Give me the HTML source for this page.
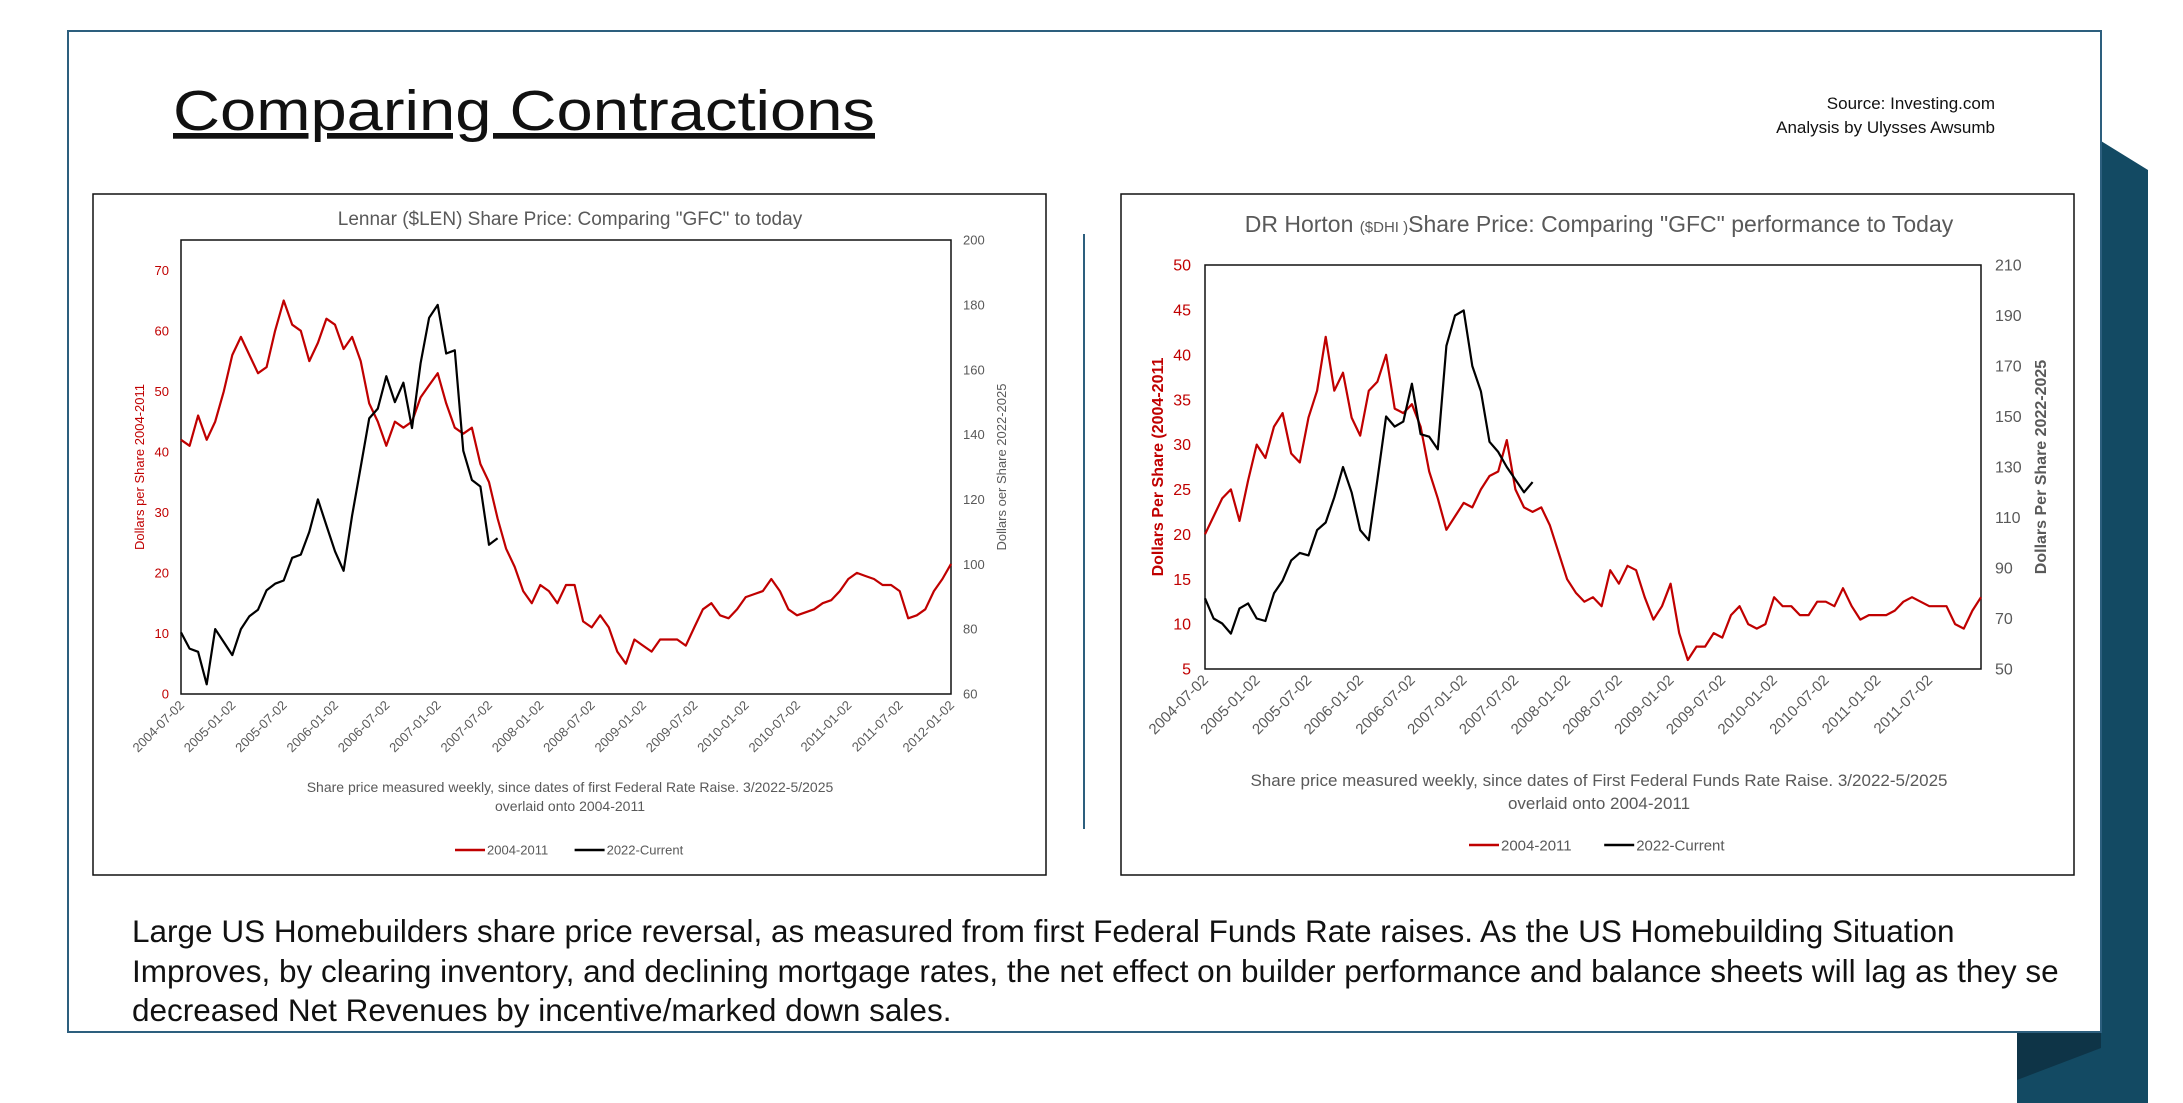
<!DOCTYPE html>
<html><head><meta charset="utf-8">
<style>
html,body{margin:0;padding:0;background:#fff;}
body{width:2183px;height:1103px;position:relative;overflow:hidden;font-family:"Liberation Sans",sans-serif;}
svg{position:absolute;left:0;top:0;}
.body-text{position:absolute;left:132px;top:912px;width:1966px;overflow:hidden;white-space:nowrap;font-size:31.5px;line-height:39.5px;color:#111;}
</style></head>
<body>
<svg id="main" width="2183" height="1103" viewBox="0 0 2183 1103">
  <polygon points="2101,141 2148,170 2148,1103 2017,1103 2017,1033 2101,1033" fill="#134a63"/>
  <polygon points="2017,1033 2101,1033 2101,1048 2017,1080" fill="#0e3447"/>
  <rect x="68" y="31" width="2033" height="1001" fill="#fff" stroke="#2d5f7e" stroke-width="2"/>
  <text x="173" y="130" font-size="57" fill="#111" textLength="702" lengthAdjust="spacingAndGlyphs" text-decoration="underline">Comparing Contractions</text>
  <text x="1995" y="109" font-size="17" text-anchor="end" fill="#111">Source: Investing.com</text>
  <text x="1995" y="133" font-size="17" text-anchor="end" fill="#111">Analysis by Ulysses Awsumb</text>
  <line x1="1084" y1="234" x2="1084" y2="829" stroke="#2d5f7e" stroke-width="2"/>
  <g id="chartL"></g>
  <g id="chartR"></g>
</svg>
<div class="body-text">Large US Homebuilders share price reversal, as measured from first Federal Funds Rate raises. As the US Homebuilding Situation<br>Improves, by clearing inventory, and declining mortgage rates, the net effect on builder performance and balance sheets will lag as they se<br>decreased Net Revenues by incentive/marked down sales.</div>
<script>
// Lennar monthly values starting 2004-07
const lenRed = [42,41,46,42,45,50,56,59,56,53,54,60,65,61,60,55,58,62,61,57,59,55,48,45,41,45,44,45,49,51,53,48,44,43,44,38,35,29,24,21,17,15,18,17,15,18,18,12,11,13,11,7,5,9,8,7,9,9,9,8,11,14,15,13,12.5,14,16,16.5,17,19,17,14,13,13.5,14,15,15.5,17,19,20,19.5,19,18,18,17,12.5,13,14,17,19,21.5];
const lenBlack = [79,74,73,63,80,76,72,80,84,86,92,94,95,102,103,110,120,112,104,98,115,130,145,148,158,150,156,142,162,176,180,165,166,135,126,124,106,108];
const lenLeftTicks = [0,10,20,30,40,50,60,70];
const lenRightTicks = [60,80,100,120,140,160,180,200];
const lenXLabels = ["2004-07-02","2005-01-02","2005-07-02","2006-01-02","2006-07-02","2007-01-02","2007-07-02","2008-01-02","2008-07-02","2009-01-02","2009-07-02","2010-01-02","2010-07-02","2011-01-02","2011-07-02","2012-01-02"];
// DR Horton monthly values starting 2004-07
const dhiRed = [20,22,24,25,21.5,26,30,28.5,32,33.5,29,28,33,36,42,36,38,33,31,36,37,40,34,33.5,34.5,32,27,24,20.5,22,23.5,23,25,26.5,27,30.5,25,23,22.5,23,21,18,15,13.5,12.5,13,12,16,14.5,16.5,16,13,10.5,12,14.5,9,6,7.5,7.5,9,8.5,11,12,10,9.5,10,13,12,12,11,11,12.5,12.5,12,14,12,10.5,11,11,11,11.5,12.5,13,12.5,12,12,12,10,9.5,11.5,13];
const dhiBlack = [78,70,68,64,74,76,70,69,80,85,93,96,95,105,108,118,130,120,105,101,125,150,146,148,163,143,142,137,178,190,192,170,160,140,136,130,125,120,124];
const dhiLeftTicks = [5,10,15,20,25,30,35,40,45,50];
const dhiRightTicks = [50,70,90,110,130,150,170,190,210];
const dhiXLabels = ["2004-07-02","2005-01-02","2005-07-02","2006-01-02","2006-07-02","2007-01-02","2007-07-02","2008-01-02","2008-07-02","2009-01-02","2009-07-02","2010-01-02","2010-07-02","2011-01-02","2011-07-02"];

const NS = "http://www.w3.org/2000/svg";
function mk(parent, tag, attrs, txt){
  const e = document.createElementNS(NS, tag);
  for (const k in attrs) e.setAttribute(k, attrs[k]);
  if (txt !== undefined) e.textContent = txt;
  parent.appendChild(e);
  return e;
}
function draw(g, c){
  const box = mk(g,'rect',{x:c.bx,y:c.by,width:c.bw,height:c.bh,fill:'#fff',stroke:'#111','stroke-width':1.5});
  
  
  const L=c.pl,R=c.pr,T=c.pt,B=c.pb;
  const x = m => L + (R-L)*m/90;
  const yl = v => B - (B-T)*(v-c.lmin)/(c.lmax-c.lmin);
  const yr = v => B - (B-T)*(v-c.rmin)/(c.rmax-c.rmin);
  const area = mk(g,'rect',{x:L,y:T,width:R-L,height:B-T,fill:'none',stroke:'#111','stroke-width':1.5});
  
  
  const title = mk(g,'text',{x:c.cx,y:c.ty,'font-size':c.tfs,'text-anchor':'middle',fill:'#595959'});
  title.innerHTML = c.title;
  
  
  c.lt.forEach(v=>{
    const t = mk(g,'text',{x:L-c.tickGap,y:yl(v)+c.fs*0.35,'font-size':c.fs,'text-anchor':'end',fill:'#c00000'},String(v));
    
    
  });
  c.rt.forEach(v=>{
    const t = mk(g,'text',{x:R+c.tickGap,y:yr(v)+c.fs*0.35,'font-size':c.fs,'text-anchor':'start',fill:'#595959'},String(v));
    
    
  });
  c.xl.forEach((s,i)=>{
    const px = x(i*6);
    const t = mk(g,'text',{x:px+4,y:B+12,'font-size':c.xfs,'text-anchor':'end',fill:'#595959',transform:`rotate(-45 ${px+4} ${B+12})`},s);
    
    
  });
  const midY=(T+B)/2;
  const la = mk(g,'text',{x:c.lax,y:midY,'font-size':c.afs,'font-weight':c.abold,'text-anchor':'middle',fill:'#c00000',transform:`rotate(-90 ${c.lax} ${midY})`},c.ltitle);
  
  
  const ra = mk(g,'text',{x:c.rax,y:midY,'font-size':c.afs,'font-weight':c.abold,'text-anchor':'middle',fill:'#595959',transform:`rotate(-90 ${c.rax} ${midY})`},c.rtitle);
  
  
  c.sub.forEach((s,i)=>{
    const t = mk(g,'text',{x:c.cx,y:c.sy+i*c.sgap,'font-size':c.sfs,'text-anchor':'middle',fill:'#595959'},s);
    
    
  });
  const redPts = c.red.map((v,i)=>x(i).toFixed(1)+','+yl(v).toFixed(1)).join(' ');
  const rl = mk(g,'polyline',{points:redPts,fill:'none',stroke:'#c00000','stroke-width':2.2,'stroke-linejoin':'round'});
  
  
  const blkPts = c.black.map((v,i)=>x(i).toFixed(1)+','+yr(v).toFixed(1)).join(' ');
  const bl = mk(g,'polyline',{points:blkPts,fill:'none',stroke:'#000','stroke-width':2.2,'stroke-linejoin':'round'});
  
  
  const lx = c.cx - c.legW/2;
  const l1 = mk(g,'line',{x1:lx,y1:c.ly,x2:lx+30,y2:c.ly,stroke:'#c00000','stroke-width':2.5});
  
  
  const lt1 = mk(g,'text',{x:lx+32,y:c.ly+c.lfs*0.35,'font-size':c.lfs,fill:'#595959'},'2004-2011');
  
  
  const lx2 = lx + c.legW*0.52;
  const l2 = mk(g,'line',{x1:lx2,y1:c.ly,x2:lx2+30,y2:c.ly,stroke:'#000','stroke-width':2.5});
  
  
  const lt2 = mk(g,'text',{x:lx2+32,y:c.ly+c.lfs*0.35,'font-size':c.lfs,fill:'#595959'},'2022-Current');
  
  
}
draw(document.getElementById('chartL'),{
  bx:93,by:194,bw:953,bh:681,pl:181,pr:951,pt:240,pb:694,cx:570,ty:225,tfs:19,
  title:'Lennar ($LEN) Share Price: Comparing "GFC" to today',
  lmin:0,lmax:75,rmin:60,rmax:200,lt:lenLeftTicks,rt:lenRightTicks,xl:lenXLabels,
  fs:13,xfs:13,tickGap:12,lax:144,rax:1006,afs:13,abold:'normal',
  ltitle:'Dollars per Share 2004-2011',rtitle:'Dollars oer Share 2022-2025',
  sub:['Share price measured weekly, since dates of first Federal Rate Raise. 3/2022-5/2025','overlaid onto 2004-2011'],
  sy:792,sgap:19,sfs:14,ly:850,lfs:13,legW:230,red:lenRed,black:lenBlack
});
draw(document.getElementById('chartR'),{
  bx:1121,by:194,bw:953,bh:681,pl:1205,pr:1981,pt:265,pb:669,cx:1599,ty:232,tfs:23,
  title:'DR Horton <tspan font-size="15">($DHI )</tspan>Share Price: Comparing "GFC" performance to Today',
  lmin:5,lmax:50,rmin:50,rmax:210,lt:dhiLeftTicks,rt:dhiRightTicks,xl:dhiXLabels,
  fs:16,xfs:15,tickGap:14,lax:1163,rax:2046,afs:16,abold:'bold',
  ltitle:'Dollars Per Share (2004-2011',rtitle:'Dollars Per Share 2022-2025',
  sub:['Share price measured weekly, since dates of First Federal Funds Rate Raise. 3/2022-5/2025','overlaid onto 2004-2011'],
  sy:786,sgap:23,sfs:17,ly:845,lfs:15,legW:260,red:dhiRed,black:dhiBlack
});
</script>
</body></html>
